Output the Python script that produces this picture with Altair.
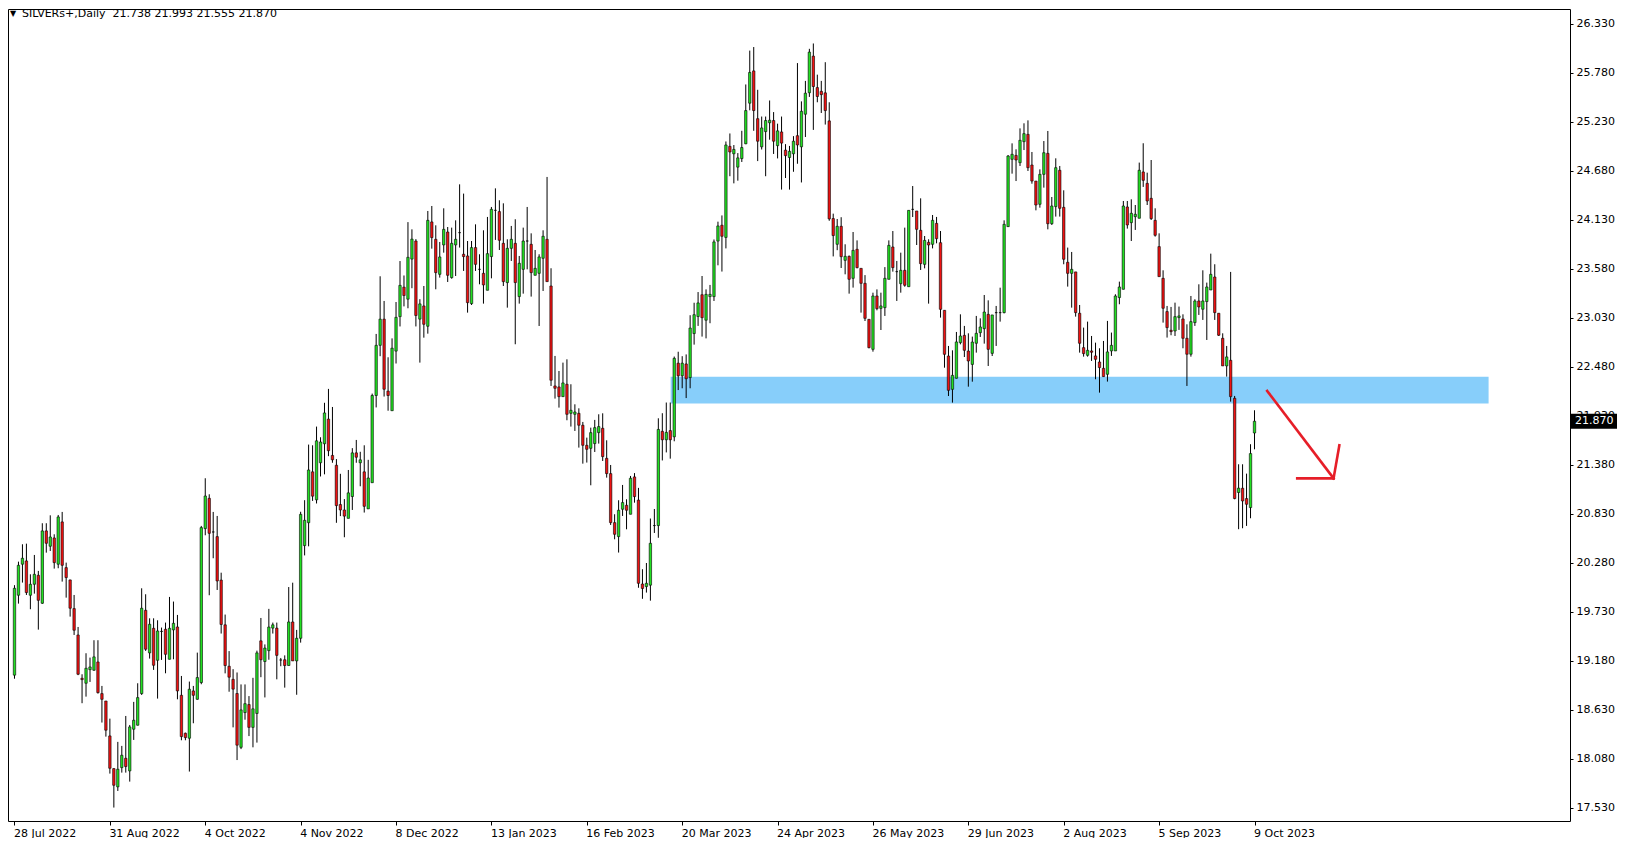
import altair as alt
import pandas as pd

# ---- daily candles (bar index 0 = 28 Jul 2022) ----
opens = [
19.02,19.917,20.265,20.302,19.917,20.04,20.141,19.827,20.639,20.467,
20.56,20.265,20.74,20.227,20.089,19.767,19.471,18.985,18.929,19.082,
19.075,19.168,18.813,18.73,18.338,17.971,17.766,17.982,18.087,17.945,
18.413,18.458,18.813,19.748,19.27,19.546,19.187,19.51,19.535,19.198,
19.528,19.561,18.794,18.368,18.312,18.843,18.749,18.937,20.665,21.005,
20.627,20.575,20.087,19.585,19.12,18.973,18.814,18.21,18.60,18.69,
18.434,18.59,19.405,19.173,19.295,19.548,19.548,19.19,19.193,19.128,
19.617,19.18,19.434,20.474,20.731,21.302,20.988,21.404,21.617,21.894,
21.486,21.376,20.935,20.874,20.78,21.025,21.515,21.404,21.302,20.886,
21.18,22.159,22.722,23.016,22.208,21.988,22.657,23.044,23.375,23.24,
23.69,23.893,23.016,23.164,22.936,24.107,23.912,23.519,23.849,23.994,
23.482,23.849,23.987,23.744,23.725,23.19,23.819,23.575,23.53,23.34,
23.718,24.237,24.223,23.867,23.426,23.811,23.867,23.269,23.575,23.893,
23.856,23.508,23.53,23.699,23.912,23.388,22.266,22.255,22.146,22.285,
21.959,21.948,21.959,21.825,21.6,21.566,21.619,21.742,21.791,21.454,
21.282,20.732,20.575,20.882,20.927,20.826,21.245,20.985,20.043,20.014,
20.03,20.699,20.699,21.757,21.662,21.765,21.695,22.522,22.38,22.513,
22.36,22.854,23.045,23.29,23.004,23.269,23.269,23.892,24.07,23.933,
24.955,24.872,24.722,24.818,24.984,25.44,25.802,25.266,24.95,25.121,
25.22,25.245,24.963,25.117,24.913,24.83,24.872,25.075,24.95,25.316,
25.557,25.968,25.615,25.573,25.556,25.241,24.145,23.856,24.058,23.676,
23.721,23.474,23.8,23.586,23.418,23.014,22.677,23.276,23.137,23.145,
23.463,23.826,23.549,23.414,23.564,23.38,24.248,24.23,24.013,23.631,
23.878,23.856,24.091,23.874,23.115,22.602,22.228,22.352,22.752,22.834,
22.658,22.508,22.745,22.864,22.909,23.07,22.632,23.089,23.089,23.089,
24.054,24.81,24.854,24.772,25.008,25.09,24.746,24.566,24.305,24.641,
24.877,24.087,24.279,24.687,24.271,23.654,23.53,23.546,23.082,22.696,
22.61,22.659,22.603,22.535,22.464,22.397,22.659,22.659,23.258,23.351,
24.275,24.099,24.166,24.148,24.668,24.54,24.372,24.125,23.83,23.474,
23.101,22.891,22.883,23.033,23.018,22.801,22.622,22.977,23.22,23.127,
23.213,23.343,23.489,23.082,22.801,22.491,22.554,22.128,21.07,21.118,
21.002,20.901,21.738]
highs = [
20.03,20.294,20.489,20.496,20.152,20.369,20.19,20.725,20.725,20.814,
20.601,20.818,20.852,20.283,20.09,19.92,19.561,19.03,19.266,19.217,
19.412,19.412,18.899,18.73,18.532,17.975,18.271,18.226,18.562,18.461,
18.72,18.929,19.995,19.928,19.658,19.658,19.636,19.554,19.61,19.898,
19.846,19.696,19.011,18.375,18.948,18.899,19.273,20.695,21.23,21.05,
20.852,20.807,20.17,19.70,19.29,19.087,19.05,18.916,18.916,18.785,
18.99,19.295,19.662,19.365,19.764,19.61,19.61,19.213,19.242,20.009,
20.058,19.528,20.854,20.984,21.608,21.60,21.81,21.69,22.077,22.233,
22.03,21.445,21.28,20.996,21.323,21.568,21.66,21.527,21.60,21.437,
22.18,22.85,23.497,23.22,22.588,22.80,23.208,23.668,23.506,24.105,
24.024,23.914,23.24,23.388,24.23,24.286,24.069,23.882,24.26,24.05,
24.043,24.125,24.529,24.425,23.893,23.893,24.08,23.744,24.013,24.163,
24.275,24.484,24.35,24.316,23.912,24.062,24.137,23.725,24.043,24.275,
23.979,23.792,23.744,24.013,24.612,23.587,22.603,22.434,22.528,22.565,
22.285,22.06,22.015,21.862,21.686,21.798,21.885,21.948,21.959,21.656,
21.379,20.826,20.983,21.155,20.994,21.256,21.288,21.122,20.209,20.279,
20.778,20.885,21.903,21.96,22.08,22.08,22.596,22.65,22.60,22.62,
23.06,23.20,23.32,23.50,23.35,23.40,23.91,24.11,24.18,25.01,
25.10,24.97,24.88,25.13,25.65,26.03,26.07,25.59,25.29,25.29,
25.47,25.34,25.21,25.29,24.98,24.96,25.07,25.89,25.46,25.69,
26.05,26.11,25.76,25.69,25.90,25.45,24.20,24.14,24.16,23.856,
23.73,23.994,23.90,23.586,23.51,23.014,23.313,23.35,23.313,23.6,
23.9,24.005,23.669,23.762,24.043,24.237,24.51,24.23,24.372,23.949,
23.912,24.185,24.163,24.005,23.115,22.715,22.666,22.872,23.07,22.94,
22.857,22.82,23.052,23.025,23.287,23.227,23.063,23.164,23.369,24.125,
24.858,24.989,24.922,25.157,25.214,25.247,24.892,24.566,24.697,25.015,
25.128,24.387,24.821,24.735,24.462,23.819,23.77,23.546,23.175,22.921,
22.988,22.827,22.752,22.689,22.771,22.996,22.865,23.295,23.437,24.342,
24.342,24.361,24.297,24.773,24.99,24.66,24.802,24.26,23.979,23.564,
23.164,23.153,23.201,23.157,23.07,22.958,23.276,23.239,23.407,23.564,
23.426,23.751,23.632,23.082,22.857,22.715,23.546,22.154,21.387,21.387,
21.282,21.612,21.993]
lows = [
18.98,19.823,20.059,19.92,19.76,19.935,19.531,19.82,20.395,20.414,
20.216,20.22,20.07,19.89,19.677,19.471,19.02,18.705,18.779,18.944,
19.07,18.813,18.488,18.33,17.915,17.534,17.72,17.926,17.926,17.825,
18.293,18.455,18.798,19.292,19.206,19.079,18.757,19.191,19.041,19.198,
19.198,18.749,18.289,18.289,17.938,18.48,18.745,18.918,20.59,19.917,
20.332,19.976,19.487,19.04,18.834,18.434,18.067,18.19,18.52,18.336,
18.21,18.263,18.997,18.77,19.193,19.487,18.973,19.12,18.88,19.128,
19.18,18.80,19.385,20.364,20.466,20.976,20.947,21.25,21.274,21.478,
21.404,20.73,20.805,20.568,20.78,20.874,21.404,21.14,20.845,20.886,
21.18,22.025,22.6,22.147,21.988,21.988,22.518,22.934,23.159,23.138,
23.363,22.934,22.528,22.808,22.853,23.807,23.351,23.482,23.762,23.433,
23.47,23.5,23.819,23.557,23.089,23.175,23.557,23.407,23.19,23.34,
23.474,23.905,23.792,23.388,23.145,23.669,22.734,23.19,23.302,23.575,
23.269,23.508,22.939,23.332,23.437,22.266,22.124,22.023,22.146,21.881,
21.81,21.761,21.574,21.394,21.406,21.151,21.525,21.619,21.424,21.237,
20.706,20.545,20.396,20.807,20.657,20.826,20.956,20.001,19.877,19.947,
19.856,20.616,20.562,21.43,21.52,21.45,21.645,22.22,22.24,22.13,
22.24,22.73,22.94,22.82,22.80,22.97,23.22,23.62,23.55,23.81,
24.62,24.54,24.57,24.78,24.98,25.36,25.13,24.79,24.92,24.62,
25.03,24.87,24.82,24.47,24.60,24.47,24.67,24.76,24.55,25.06,
25.51,25.14,25.45,25.33,25.20,24.12,23.72,23.79,23.59,23.519,
23.302,23.37,23.586,23.089,22.995,22.688,22.651,23.115,22.894,23.052,
23.463,23.549,23.22,23.313,23.38,23.38,24.162,23.848,23.568,23.586,
23.19,23.81,23.867,23.033,22.471,22.153,22.079,22.35,22.733,22.591,
22.258,22.314,22.64,22.816,22.741,22.49,22.602,22.715,22.988,23.081,
24.05,24.649,24.566,24.735,24.914,24.679,24.536,24.237,24.267,24.492,
24.024,24.073,24.167,24.167,23.632,23.381,23.145,23.044,22.64,22.595,
22.595,22.547,22.341,22.191,22.37,22.315,22.603,22.659,23.183,23.35,
24.032,23.893,24.017,24.148,24.5,24.297,24.129,23.942,23.493,22.977,
22.809,22.835,22.827,22.895,22.689,22.266,22.595,22.94,23.063,23.007,
22.782,23.343,23.007,22.827,22.491,22.371,22.09,20.994,20.658,20.669,
20.695,20.781,21.555]
closes = [
19.995,20.253,20.332,19.947,20.04,20.152,19.86,20.639,20.50,20.571,
20.283,20.796,20.253,20.115,19.771,19.524,19.03,18.97,19.097,19.112,
19.225,18.824,18.749,18.402,17.975,17.784,17.964,18.121,17.994,18.439,
18.514,18.768,19.771,19.311,19.591,19.131,19.516,19.512,19.254,19.546,
19.602,18.843,18.33,18.319,18.862,18.794,18.993,20.676,21.031,20.612,
20.627,20.077,19.589,19.128,18.997,18.863,18.234,18.63,18.70,18.434,
18.642,19.27,19.193,19.324,19.56,19.585,19.242,19.19,19.128,19.617,
19.18,19.434,20.825,20.758,21.323,21.029,21.65,21.637,21.963,21.539,
21.437,20.923,20.874,20.805,21.066,21.515,21.466,21.437,20.915,21.233,
22.159,22.722,23.016,22.229,22.159,22.69,23.036,23.395,23.281,23.71,
23.914,23.057,23.187,22.958,24.125,23.931,23.538,23.714,24.024,23.508,
23.867,23.912,23.987,23.718,23.201,23.819,23.631,23.575,23.4,23.751,
24.249,24.237,23.901,23.437,23.811,23.912,23.426,23.643,23.893,23.893,
23.538,23.586,23.714,23.946,23.437,22.33,22.24,22.146,22.30,21.948,
21.993,21.974,21.825,21.6,21.555,21.742,21.798,21.81,21.473,21.282,
20.732,20.601,20.871,20.957,20.871,21.23,21.024,20.051,19.993,20.051,
20.5,20.699,21.778,21.662,21.745,21.662,22.576,22.38,22.522,22.347,
22.916,23.066,23.198,23.032,23.294,23.294,23.883,24.062,23.946,24.971,
24.892,24.921,24.826,24.942,25.357,25.785,25.357,25.013,25.162,25.245,
25.249,25.013,25.129,24.992,24.851,24.9,25.013,24.971,25.349,25.552,
26.013,25.627,25.515,25.536,25.357,24.141,23.954,24.058,23.717,23.721,
23.463,23.788,23.594,23.418,23.025,22.696,23.276,23.134,23.164,23.474,
23.844,23.594,23.549,23.564,23.396,24.237,24.248,24.024,23.639,23.9,
23.848,24.125,23.919,23.126,22.621,22.217,22.385,22.76,22.827,22.666,
22.546,22.759,22.857,22.928,23.096,22.677,23.063,23.089,23.089,24.08,
24.847,24.866,24.802,25.023,25.098,24.716,24.566,24.297,24.641,24.884,
24.087,24.286,24.716,24.26,23.688,23.53,23.575,23.089,22.745,22.629,
22.666,22.644,22.565,22.472,22.371,22.648,22.722,23.276,23.377,24.286,
24.073,24.204,24.193,24.687,24.574,24.342,24.144,23.957,23.493,23.138,
22.921,22.876,23.044,23.052,22.801,22.622,22.988,23.22,23.153,23.22,
23.377,23.519,23.089,22.835,22.491,22.592,22.146,21.002,21.119,20.975,
20.938,21.507,21.870]

# ---- axis labels ----
date_labels = ["28 Jul 2022", "31 Aug 2022", "4 Oct 2022", "4 Nov 2022", "8 Dec 2022",
               "13 Jan 2023", "16 Feb 2023", "20 Mar 2023", "24 Apr 2023", "26 May 2023",
               "29 Jun 2023", "2 Aug 2023", "5 Sep 2023", "9 Oct 2023"]
date_label_bars = [0, 24, 48, 72, 96, 120, 144, 168, 192, 216, 240, 264, 288, 312]
price_ticks = [17.53, 18.08, 18.63, 19.18, 19.73, 20.28, 20.83, 21.38, 21.93,
               22.48, 23.03, 23.58, 24.13, 24.68, 25.23, 25.78, 26.33]

# ---- drawn objects ----
zone_bars = [165.1, 370.9]
zone_prices = [22.368, 22.069]
arrow_seg = ["shaft", "shaft", "head1", "head1", "head2", "head2"]
arrow_bar = [315.2, 331.9, 333.35, 331.9, 322.75, 331.9]
arrow_price = [22.21, 21.229, 21.60, 21.229, 21.229, 21.229]
last_price = 21.870
header_text = "SILVERs+,Daily\u00a0 21.738 21.993 21.555 21.870"

W, H = 1562, 812
FONT = "DejaVu Sans"
GREEN = "#22E022"
RED = "#F01212"

n = len(opens)
df = pd.DataFrame({"i": list(range(n)), "open": opens, "high": highs,
                   "low": lows, "close": closes})
df["dir"] = ["up" if c >= o else "down" for o, c in zip(opens, closes)]

xscale = alt.Scale(domain=[-0.375, 390.125], nice=False, zero=False)
yscale = alt.Scale(domain=[17.383, 26.497], nice=False, zero=False)

label_expr = "[" + ",".join("'%s'" % s for s in date_labels) + "][round(datum.value/24)]"

xaxis = alt.Axis(values=date_label_bars, labelExpr=label_expr, title=None,
                 labelFont=FONT, labelFontSize=11, labelColor="black",
                 labelAlign="left", labelPadding=2, labelOffset=-1,
                 tickSize=4, tickColor="black", domain=False, grid=False,
                 labelOverlap=False, labelFlush=False)
yaxis = alt.Axis(values=price_ticks, format=".3f", title=None, orient="right",
                 labelFont=FONT, labelFontSize=11, labelColor="black",
                 labelPadding=3, tickSize=3, tickColor="black",
                 domain=False, grid=False, labelOverlap=False, labelFlush=False)

base = alt.Chart(df)

wicks = base.mark_rule(color="black", strokeWidth=1).encode(
    x=alt.X("i:Q", scale=xscale, axis=xaxis),
    y=alt.Y("low:Q", scale=yscale, axis=yaxis),
    y2="high:Q",
)
bodies = base.mark_bar(width=2.4, stroke="black", strokeWidth=0.6).encode(
    x=alt.X("i:Q", scale=xscale),
    y=alt.Y("open:Q", scale=yscale),
    y2="close:Q",
    color=alt.Color("dir:N", scale=alt.Scale(domain=["up", "down"], range=[GREEN, RED]),
                    legend=None),
)

zone_df = pd.DataFrame({"x1": [zone_bars[0]], "x2": [zone_bars[1]],
                        "y1": [zone_prices[0]], "y2": [zone_prices[1]]})
zone = alt.Chart(zone_df).mark_rect(color="#87CEFA").encode(
    x=alt.X("x1:Q", scale=xscale), x2="x2:Q",
    y=alt.Y("y1:Q", scale=yscale), y2="y2:Q",
)

arrow_df = pd.DataFrame({"seg": arrow_seg, "x": arrow_bar, "y": arrow_price,
                         "k": list(range(len(arrow_seg)))})
arrow = alt.Chart(arrow_df).mark_line(color="#E61E28", strokeWidth=2.6,
                                      strokeCap="square").encode(
    x=alt.X("x:Q", scale=xscale), y=alt.Y("y:Q", scale=yscale),
    detail="seg:N", order="k:Q",
)

lp_df = pd.DataFrame({"p": [last_price], "ptop": [last_price + 0.085],
                      "pbot": [last_price - 0.085], "txt": ["%.3f" % last_price]})
lp_box = alt.Chart(lp_df).mark_rect(color="black").encode(
    x=alt.value(W + 1), x2=alt.value(W + 47),
    y=alt.Y("ptop:Q", scale=yscale), y2="pbot:Q",
)
lp_text = alt.Chart(lp_df).mark_text(color="white", font=FONT, fontSize=11,
                                     align="left", baseline="middle").encode(
    x=alt.value(W + 5), y=alt.Y("p:Q", scale=yscale), text="txt:N",
)

hdr_df = pd.DataFrame({"t": [header_text], "tri": ["\u25BC"]})
hdr = alt.Chart(hdr_df).mark_text(font=FONT, fontSize=11, color="black",
                                  align="left", baseline="middle").encode(
    x=alt.value(14), y=alt.value(5), text="t:N")
tri = alt.Chart(hdr_df).mark_text(font=FONT, fontSize=8, color="black",
                                  align="left", baseline="middle").encode(
    x=alt.value(2), y=alt.value(5), text="tri:N")

chart = alt.layer(zone, wicks, bodies, arrow, lp_box, lp_text, hdr, tri).properties(
    width=W, height=H, padding=0, background="white"
).configure_view(stroke="black", strokeWidth=1)

chart.save("out.html", embed_options={"renderer": "svg", "actions": False})
